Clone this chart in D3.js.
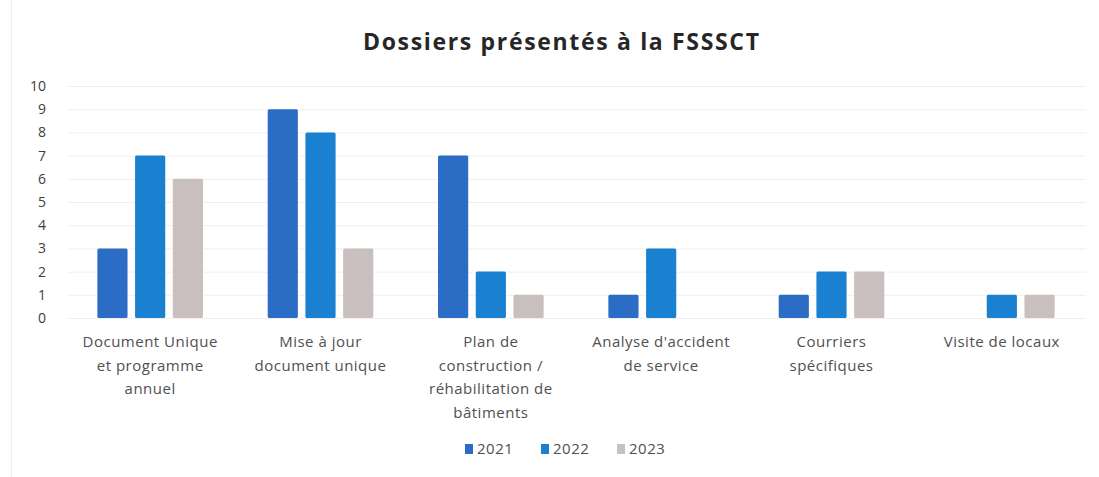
<!DOCTYPE html>
<html>
<head>
<meta charset="utf-8">
<script src="https://cdn.jsdelivr.net/npm/d3@7"></script>
<style>
  body { margin: 0; background: #fff; }
  svg { display: block; font-family: "Open Sans", "Noto Sans", sans-serif; }
</style>
</head>
<body>
<svg id="chart" width="1099" height="477"></svg>
<script>
const categories = [
  ["Document Unique", "et programme", "annuel"],
  ["Mise à jour", "document unique"],
  ["Plan de", "construction /", "réhabilitation de", "bâtiments"],
  ["Analyse d'accident", "de service"],
  ["Courriers", "spécifiques"],
  ["Visite de locaux"]
];
const years = ["2021", "2022", "2023"];
const values2021 = [3, 9, 7, 1, 1, 0];
const values2022 = [7, 8, 2, 3, 2, 1];
const values2023 = [6, 3, 1, 0, 2, 1];
const yTicks = [0, 1, 2, 3, 4, 5, 6, 7, 8, 9, 10];
const colors = ["#2b6cc4", "#1a80d0", "#c9bfbf"];

const series = [values2021, values2022, values2023];
const svg = d3.select("#chart");

// faint left edge of the scanned picture
svg.append("line")
  .attr("x1", 11.5).attr("x2", 11.5)
  .attr("y1", 0).attr("y2", 477)
  .attr("stroke", "#eeeeee");

svg.append("text")
  .attr("x", 561).attr("y", 50)
  .attr("text-anchor", "middle")
  .attr("font-size", 23).attr("font-weight", "bold")
  .attr("fill", "#262626")
  .attr("textLength", 396).attr("lengthAdjust", "spacing")
  .text("Dossiers présentés à la FSSSCT");

let x = d3.scaleBand()
  .domain(d3.range(categories.length))
  .range([65, 1087])
  .paddingInner(0.38)
  .paddingOuter(0.19);

let xi = d3.scaleBand()
  .domain(years)
  .range([0, x.bandwidth()])
  .paddingInner(0.2);

let y = d3.scaleLinear().domain([0, 10]).range([318, 86]);

// gridlines
svg.append("g")
  .selectAll("line")
  .data(yTicks)
  .enter().append("line")
  .attr("x1", 68).attr("x2", 1086)
  .attr("y1", d => y(d) + 0.5).attr("y2", d => y(d) + 0.5)
  .attr("stroke", "#efefef");

// y axis labels
let yAxis = svg.append("g")
  .attr("transform", "translate(46,0)")
  .call(d3.axisLeft(y).tickValues(yTicks).tickSize(0).tickPadding(0));
yAxis.select(".domain").remove();
yAxis.selectAll("text")
  .attr("font-size", 14).attr("fill", "#404040")
  .attr("font-family", "\"Open Sans\", sans-serif");

// bars
let groups = svg.append("g")
  .selectAll("g")
  .data(categories.map((c, i) => i))
  .enter().append("g")
  .attr("transform", d => "translate(" + x(d) + ",0)");

groups.selectAll("rect")
  .data(i => years.map((yr, k) => ({year: yr, k: k, value: series[k][i]})))
  .enter().append("rect")
  .filter(d => d.value > 0)
  .attr("x", d => xi(d.year))
  .attr("y", d => y(d.value))
  .attr("width", xi.bandwidth())
  .attr("height", d => y(0) - y(d.value))
  .attr("rx", 1.5)
  .attr("fill", d => colors[d.k]);

// category labels
let xl = svg.append("g")
  .selectAll("text")
  .data(categories)
  .enter().append("text")
  .attr("text-anchor", "middle")
  .attr("font-size", 15)
  .attr("letter-spacing", 0.5)
  .attr("fill", "#505050")
  .attr("transform", (d, i) => "translate(" + (x(i) + x.bandwidth() / 2) + ",347)");
xl.selectAll("tspan")
  .data(d => d)
  .enter().append("tspan")
  .attr("x", 0)
  .attr("y", (d, j) => j * 23.5)
  .text(d => d);

// legend
let legend = svg.append("g")
  .attr("transform", "translate(465,454)");
let items = legend.selectAll("g")
  .data(years)
  .enter().append("g")
  .attr("transform", (d, i) => "translate(" + i * 76 + ",0)");
items.append("rect")
  .attr("x", 0).attr("y", -10)
  .attr("width", 8).attr("height", 10)
  .attr("fill", (d, i) => colors[i]);
items.append("text")
  .attr("x", 12).attr("y", 0)
  .attr("font-size", 15).attr("letter-spacing", 0.5).attr("fill", "#505050")
  .text(d => d);
</script>
</body>
</html>
